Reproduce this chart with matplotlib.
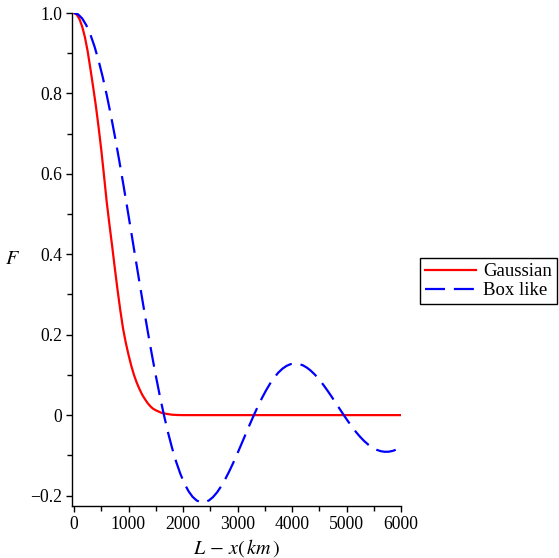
import numpy as np
import matplotlib
matplotlib.use("Agg")
from matplotlib import pyplot as plt
from matplotlib.ticker import MultipleLocator, FuncFormatter

plt.rcParams['font.family'] = ['Liberation Serif', 'DejaVu Serif']
plt.rcParams['mathtext.fontset'] = 'stix'

# Gaussian profile
x_gauss = [0, 50, 100, 150, 200, 250, 300, 350, 400, 450, 500, 550, 600, 650,
           700, 750, 800, 850, 900, 950, 1000, 1050, 1100, 1150, 1200, 1250,
           1300, 1350, 1400, 1450, 1500, 1600, 1700, 1800, 1900, 2000, 3000,
           4000, 5000, 6000]
f_gauss = [1.0, 0.996, 0.985, 0.966, 0.94, 0.905, 0.862, 0.817, 0.77, 0.717,
           0.66, 0.596, 0.53, 0.474, 0.42, 0.364, 0.31, 0.26, 0.215, 0.18,
           0.15, 0.123, 0.10, 0.081, 0.065, 0.051, 0.04, 0.03, 0.022, 0.016,
           0.012, 0.006, 0.003, 0.001, 0.0003, 0.0, 0.0, 0.0, 0.0, 0.0]

# Box like profile
x_box = [0, 75, 150, 225, 300, 375, 450, 525, 600, 675, 750, 825, 900, 975,
         1050, 1125, 1200, 1275, 1350, 1425, 1500, 1575, 1650, 1725, 1800,
         1875, 1950, 2025, 2100, 2175, 2250, 2325, 2400, 2475, 2550, 2625,
         2700, 2775, 2850, 2925, 3000, 3075, 3150, 3225, 3300, 3375, 3450,
         3525, 3600, 3675, 3750, 3825, 3900, 3975, 4050, 4125, 4200, 4275,
         4350, 4425, 4500, 4575, 4650, 4725, 4800, 4875, 4950, 5025, 5100,
         5175, 5250, 5325, 5400, 5475, 5550, 5625, 5700, 5775, 5850, 5925, 6000]
f_box = [1.0, 0.9966, 0.9865, 0.9697, 0.9465, 0.9172, 0.8821, 0.8416, 0.7962,
         0.7466, 0.6932, 0.6366, 0.5776, 0.5169, 0.4550, 0.3927, 0.3308,
         0.2698, 0.2103, 0.1531, 0.0986, 0.0475, 0.0, -0.0433, -0.0822,
         -0.1164, -0.1456, -0.1699, -0.1890, -0.2031, -0.2123, -0.2168,
         -0.2166, -0.2122, -0.2039, -0.1920, -0.1769, -0.1592, -0.1393,
         -0.1176, -0.0947, -0.0710, -0.0470, -0.0232, 0.0, 0.0222, 0.0429,
         0.0619, 0.0789, 0.0936, 0.1059, 0.1155, 0.1225, 0.1268, 0.1284,
         0.1273, 0.1238, 0.1179, 0.1098, 0.0999, 0.0882, 0.0752, 0.0611,
         0.0462, 0.0308, 0.0153, 0.0, -0.0149, -0.0290, -0.0422, -0.0541,
         -0.0646, -0.0735, -0.0807, -0.0861, -0.0896, -0.0912, -0.0910,
         -0.0889, -0.0851, -0.0796]

fig = plt.figure(figsize=(5.59, 5.58), dpi=100)
ax = fig.add_axes([0.1288, 0.0932, 0.5886, 0.8835])

ax.plot(x_gauss, f_gauss, color='#ff0000', lw=1.6, label='Gaussian')
ax.plot(x_box, f_box, color='#0000ff', lw=1.6, dashes=(9, 4), label='Box like')

ax.set_xlim(-37, 6000)
ax.set_ylim(-0.226, 1.0)

ax.spines['top'].set_visible(False)
ax.spines['right'].set_visible(False)
for s in ('left', 'bottom'):
    ax.spines[s].set_linewidth(1.0)
ax.xaxis.set_major_locator(MultipleLocator(1000))
ax.xaxis.set_minor_locator(MultipleLocator(500))
ax.yaxis.set_major_locator(MultipleLocator(0.2))
ax.yaxis.set_minor_locator(MultipleLocator(0.1))


def yfmt(v, pos):
    if abs(v) < 1e-9:
        return '0'
    return ('%.1f' % v).replace('-', '\u2212')


ax.yaxis.set_major_formatter(FuncFormatter(yfmt))
ax.tick_params(which='major', length=4, width=1, labelsize=12.7, pad=3)
ax.tick_params(which='minor', length=3.5, width=1)

ax.set_xlabel(r'$L\,-\,x(\,km\,)$', fontsize=14.5, labelpad=3)
fig.text(0.022, 0.535, r'$F$', fontsize=14.5, ha='center', va='center')

fig.legend(loc='center', bbox_to_anchor=(0.874, 0.496), fontsize=13.5,
           frameon=True, fancybox=False, edgecolor='black', framealpha=1,
           handlelength=2.7, handletextpad=0.4, borderpad=0.25,
           labelspacing=0.1, borderaxespad=0)

fig.savefig('out.png', dpi=100)
